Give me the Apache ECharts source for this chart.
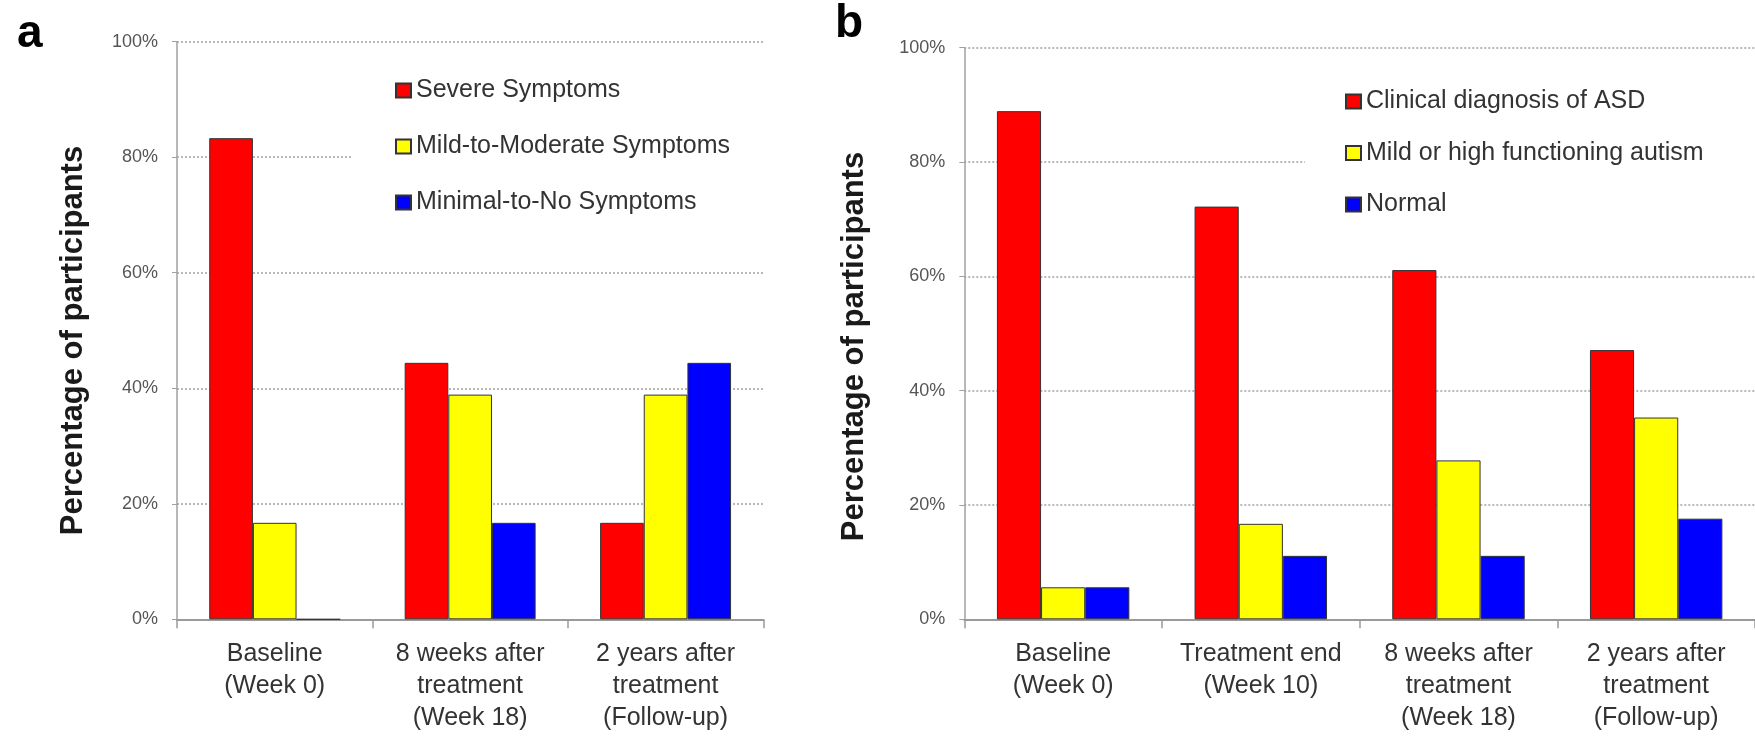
<!DOCTYPE html>
<html>
<head>
<meta charset="utf-8">
<script src="https://cdn.jsdelivr.net/npm/echarts@6/dist/echarts.min.js"></script>
<style>
html,body{margin:0;padding:0;background:#fff;}
#chart{width:1755px;height:756px;}
</style>
</head>
<body>
<div id="chart"></div>
<script>
// ---- Data ----
const yTicks = [0, 20, 40, 60, 80, 100];

const categoriesA = ['Baseline\n(Week 0)', '8 weeks after\ntreatment\n(Week 18)', '2 years after\ntreatment\n(Follow-up)'];
const seriesNamesA = ['Severe Symptoms', 'Mild-to-Moderate Symptoms', 'Minimal-to-No Symptoms'];
const severeA = [83.3, 44.4, 16.7];
const mildModerateA = [16.7, 38.9, 38.9];
const minimalA = [0, 16.7, 44.4];

const categoriesB = ['Baseline\n(Week 0)', 'Treatment end\n(Week 10)', '8 weeks after\ntreatment\n(Week 18)', '2 years after\ntreatment\n(Follow-up)'];
const seriesNamesB = ['Clinical diagnosis of ASD', 'Mild or high functioning autism', 'Normal'];
const asdB = [88.9, 72.2, 61.1, 47.1];
const mildHfaB = [5.6, 16.7, 27.8, 35.3];
const normalB = [5.6, 11.1, 11.1, 17.6];

const yTitle = 'Percentage of participants';
const panelLabels = ['a', 'b'];

// ---- Styles ----
const FONT = '"Liberation Sans", Arial, Helvetica, sans-serif';
const colors = ['#ff0000', '#ffff00', '#0000ff'];
const yMin = yTicks[0], yMax = yTicks[yTicks.length - 1], yStep = yTicks[1] - yTicks[0];

function makeX(gridIndex, cats) {
  return {
    type: 'category', gridIndex: gridIndex, data: cats,
    axisLine: {lineStyle: {color: '#9a9a9a', width: 2}},
    axisTick: {show: true, length: 9, lineStyle: {color: '#9a9a9a', width: 1.5}},
    axisLabel: {fontFamily: FONT, fontSize: 25, lineHeight: 32, color: '#333', margin: 19, interval: 0}
  };
}
function makeY(gridIndex, gap, shift) {
  return {
    type: 'value', gridIndex: gridIndex, min: yMin, max: yMax, interval: yStep,
    name: yTitle, nameLocation: 'middle', nameGap: gap,
    nameTextStyle: {fontFamily: FONT, fontSize: 31, fontWeight: 'bold', color: '#1a1a1a', padding: [0, shift, 0, 0]},
    axisLine: {show: true, lineStyle: {color: '#a0a0a0', width: 1.5}},
    axisTick: {show: true, length: 5, lineStyle: {color: '#a0a0a0'}},
    axisLabel: {formatter: '{value}%', fontFamily: FONT, fontSize: 18, color: '#555', margin: 19},
    splitLine: {show: true, lineStyle: {color: '#b8b8b8', type: 'dotted', width: 2}}
  };
}
function makeBar(name, data, idx, axisIdx) {
  return {
    type: 'bar', name: name, data: data, xAxisIndex: axisIdx, yAxisIndex: axisIdx,
    barGap: '0%', barCategoryGap: '33%',
    itemStyle: {color: colors[idx], borderColor: '#333', borderWidth: 1},
    emphasis: {disabled: true}
  };
}

const chart = echarts.init(document.getElementById('chart'), null, {renderer: 'canvas'});
const option = {
  animation: false,
  backgroundColor: '#ffffff',
  textStyle: {fontFamily: FONT},
  grid: [
    {left: 177, top: 41.7, width: 586.3, height: 577.6},
    {left: 964.3, top: 47.7, width: 801, height: 571.6}
  ],
  xAxis: [makeX(0, categoriesA), makeX(1, categoriesB)],
  yAxis: [makeY(0, 88, 20), makeY(1, 94, 26)],
  legend: [
    {
      data: seriesNamesA, orient: 'vertical', left: 351, top: 61,
      padding: [16, 55, 18, 44], backgroundColor: '#ffffff',
      itemWidth: 15, itemHeight: 14, itemGap: 29, icon: 'rect',
      textStyle: {fontFamily: FONT, fontSize: 25, lineHeight: 27, color: '#333'},
      selectedMode: false
    },
    {
      data: seriesNamesB, orient: 'vertical', left: 1305, top: 68,
      padding: [20, 300, 18, 40], backgroundColor: '#ffffff',
      itemWidth: 15, itemHeight: 14, itemGap: 24.5, icon: 'rect',
      textStyle: {fontFamily: FONT, fontSize: 25, lineHeight: 27, color: '#333'},
      selectedMode: false
    }
  ],
  graphic: [
    {type: 'text', x: 17, y: 34, style: {text: panelLabels[0], font: 'bold 46px ' + FONT, fill: '#000', verticalAlign: 'middle'}},
    {type: 'text', x: 835, y: 24, style: {text: panelLabels[1], font: 'bold 46px ' + FONT, fill: '#000', verticalAlign: 'middle'}}
  ],
  series: [
    makeBar(seriesNamesA[0], severeA, 0, 0),
    makeBar(seriesNamesA[1], mildModerateA, 1, 0),
    makeBar(seriesNamesA[2], minimalA, 2, 0),
    makeBar(seriesNamesB[0], asdB, 0, 1),
    makeBar(seriesNamesB[1], mildHfaB, 1, 1),
    makeBar(seriesNamesB[2], normalB, 2, 1)
  ]
};
chart.setOption(option);
</script>
</body>
</html>
